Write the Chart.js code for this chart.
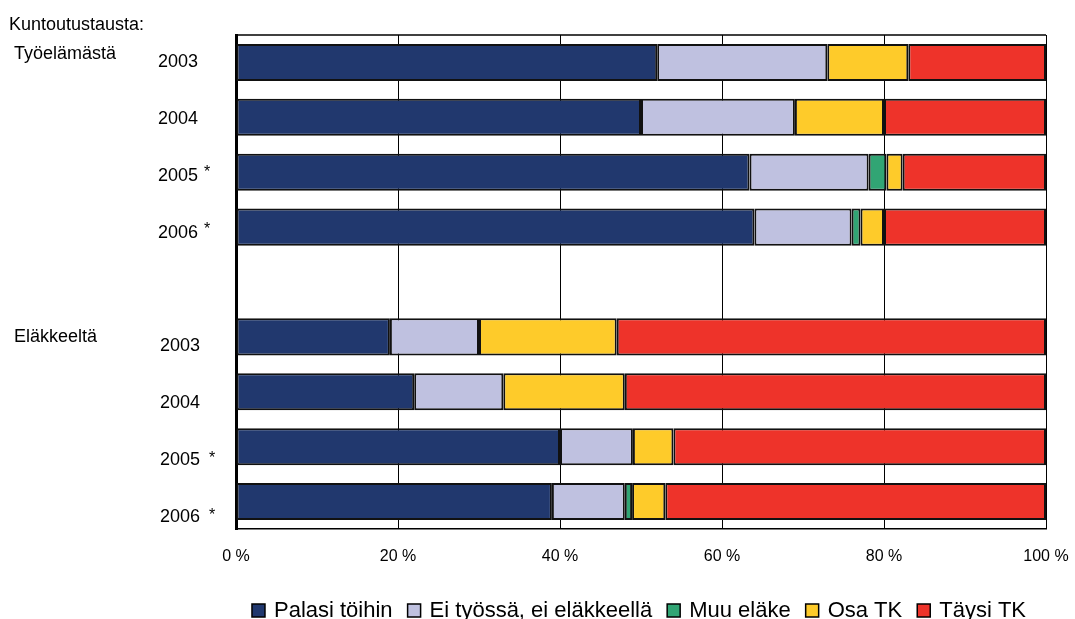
<!DOCTYPE html>
<html lang="fi">
<head>
<meta charset="UTF-8">
<title>Kuntoutustausta</title>
<script src="https://cdn.jsdelivr.net/npm/chart.js"></script>
<style>
  body { margin: 0; background: #fff; }
</style>
</head>
<body>
<canvas id="chart" width="1075" height="619"></canvas>
<script>
// rows top to bottom, empty slot separates the two groups
const categories = ['2003', '2004', '2005 *', '2006 *', '', '2003', '2004', '2005 *', '2006 *'];
const groupLabels = ['Työelämästä', 'Eläkkeeltä'];
const palasiToihin = [52, 50, 63.4, 64, null, 19, 22, 40, 39];
const eiTyossa = [21, 19, 14.7, 12, null, 11, 11, 9, 9];
const muuElake = [null, null, 2.2, 1.1, null, null, null, null, 0.9];
const osaTK = [10, 11, 2, 2.9, null, 17, 15, 5, 4.1];
const taysiTK = [17, 20, 17.7, 20, null, 53, 52, 46, 47];
const xTicks = [0, 20, 40, 60, 80, 100];

const FONT = '"Liberation Sans", Arial, sans-serif';

// left side texts and year labels
const sideLabels = {
  id: 'sideLabels',
  afterDraw(chart) {
    const ctx = chart.ctx;
    const y = chart.scales.y;
    ctx.save();
    ctx.fillStyle = '#000';
    ctx.textAlign = 'left';
    ctx.textBaseline = 'alphabetic';
    ctx.font = '18px ' + FONT;
    ctx.fillText('Kuntoutustausta:', 9, 30);
    ctx.fillText(groupLabels[0], 14, 59);
    ctx.fillText(groupLabels[1], 14, 342);

    categories.forEach((lab, i) => {
      if (!lab) return;
      const year = lab.replace('*', '').trim();
      const base = y.getPixelForValue(i) + 5 + i * 1.9;
      const second = i > 4;
      ctx.font = '18px ' + FONT;
      ctx.fillText(year, second ? 160 : 158, base);
      if (lab.includes('*')) {
        ctx.font = '16px ' + FONT;
        ctx.fillText('*', second ? 209 : 204, base - (second ? 2 : 4));
      }
    });
    ctx.restore();
  }
};

// top edge of the plot frame
const frameTop = {
  id: 'frameTop',
  beforeDatasetsDraw(chart) {
    const {ctx, chartArea} = chart;
    ctx.save();
    ctx.strokeStyle = '#000';
    ctx.lineWidth = 1.5;
    ctx.beginPath();
    ctx.moveTo(chartArea.left, chartArea.top);
    ctx.lineTo(chartArea.right, chartArea.top);
    ctx.stroke();
    ctx.restore();
  }
};

// legend row under the axis
const bottomLegend = {
  id: 'bottomLegend',
  afterDraw(chart) {
    const ctx = chart.ctx;
    const sets = chart.data.datasets;
    const box = 13, gap = 9, space = 15;
    ctx.save();
    ctx.font = '22px ' + FONT;
    const widths = sets.map(d => box + gap + ctx.measureText(d.label).width);
    const total = widths.reduce((a, b) => a + b, 0) + space * (sets.length - 1);
    let x = 639 - total / 2;
    const cy = 610;
    ctx.textBaseline = 'middle';
    ctx.textAlign = 'left';
    sets.forEach((d, i) => {
      ctx.fillStyle = d.backgroundColor;
      ctx.fillRect(x, cy - 6, box, box);
      ctx.strokeStyle = '#000';
      ctx.lineWidth = 1.5;
      ctx.strokeRect(x, cy - 6, box, box);
      ctx.fillStyle = '#000';
      ctx.fillText(d.label, x + box + gap, cy + 1);
      x += widths[i] + space;
    });
    ctx.restore();
  }
};

function bar(label, data, color) {
  return {
    label: label,
    data: data,
    backgroundColor: color,
    borderColor: '#111',
    borderWidth: 2,
    borderSkipped: false,
    barPercentage: 0.675,
    categoryPercentage: 1
  };
}

new Chart(document.getElementById('chart'), {
  type: 'bar',
  data: {
    labels: categories,
    datasets: [
      bar('Palasi töihin', palasiToihin, '#21386e'),
      bar('Ei työssä, ei eläkkeellä', eiTyossa, '#bfc1e0'),
      bar('Muu eläke', muuElake, '#31a574'),
      bar('Osa TK', osaTK, '#fecb2a'),
      bar('Täysi TK', taysiTK, '#ee332a')
    ]
  },
  options: {
    indexAxis: 'y',
    responsive: false,
    animation: false,
    layout: { padding: { left: 236, right: 29, top: 35, bottom: 50 } },
    plugins: {
      legend: { display: false },
      tooltip: { enabled: false }
    },
    scales: {
      x: {
        stacked: true,
        min: 0,
        max: 100,
        afterBuildTicks: (scale) => { scale.ticks = xTicks.map(v => ({ value: v })); },
        afterFit: (scale) => {
          scale.height = 40;
          scale.paddingLeft = 0;
          scale.paddingRight = 0;
        },
        grid: { color: '#000', lineWidth: 1, drawTicks: false },
        border: { color: '#000', width: 1.5 },
        ticks: {
          padding: 18,
          color: '#000',
          font: { family: FONT, size: 16 },
          callback: (v) => v + ' %'
        }
      },
      y: {
        stacked: true,
        afterFit: (scale) => { scale.width = 0; },
        grid: { display: false },
        border: { color: '#000', width: 3 },
        ticks: { display: false }
      }
    }
  },
  plugins: [frameTop, sideLabels, bottomLegend]
});
</script>
</body>
</html>
